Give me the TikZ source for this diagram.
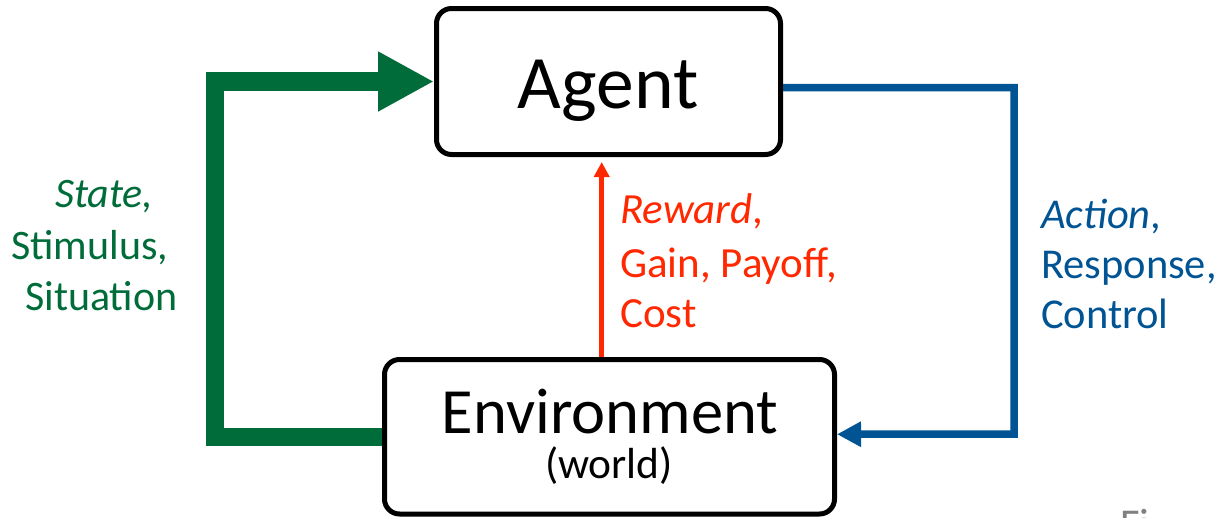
\documentclass[tikz,border=0pt]{standalone}
\usepackage{fontspec}
\setmainfont{Carlito}
\usetikzlibrary{arrows.meta}
\definecolor{stgreen}{RGB}{0,108,58}
\definecolor{actblue}{RGB}{0,84,148}
\definecolor{rwred}{RGB}{255,40,0}
\definecolor{figgray}{RGB}{128,128,128}
\begin{document}
\begin{tikzpicture}[x=1pt,y=-1pt,
  box/.style={draw=black, line width=5pt, rounded corners=15pt, fill=white, inner sep=0pt},
  lbl/.style={anchor=base west, inner sep=0pt, font=\fontsize{42.5}{50}\selectfont},
  title/.style={anchor=base, inner sep=0pt},
]
\useasboundingbox (0,0) rectangle (1222,517);
% boxes
\node[box, minimum width=344pt, minimum height=146pt] (agent) at (608.5,81.5) {};
\node[box, minimum width=450pt, minimum height=154.5pt] (env) at (609.5,436.75) {};
% box texts
\node[title, font=\fontsize{75.5}{90}\selectfont] (agenttxt) at (608,108) {Agent};
\node[title, font=\fontsize{64.5}{76}\selectfont] (envtxt) at (610,433) {Environment};
\node[title, font=\fontsize{43.5}{50}\selectfont] (worldtxt) at (609,478) {(world)};
% connectors
\draw[stgreen, line width=18.5pt, -{Triangle[length=56pt,width=56pt]}]
  (env.west) -- ++(-167,0) |- (agent.west);
\draw[actblue, line width=7.5pt, -{Triangle[length=24pt,width=24pt]}]
  ([yshift=-6pt]agent.east) -- (1014,87.5) -- (1014,434) -- ([yshift=2.5pt]env.east);
\coordinate (rx) at (601.7,300);
\draw[rwred, line width=4.5pt, -{Triangle[length=15pt,width=15pt]}, shorten >=5pt]
  (rx |- env.north) -- (rx |- agent.south);
% labels
\node[lbl, text=stgreen, font=\fontsize{42}{50}\selectfont] (st1) at (55,207) {\itshape State,};
\node[lbl, text=stgreen, font=\fontsize{42}{50}\selectfont] (st2) at (11,259) {Stimulus,};
\node[lbl, text=stgreen, font=\fontsize{42}{50}\selectfont] (st3) at (25,310) {Situation};
\node[lbl, text=rwred, font=\fontsize{43}{50}\selectfont] (rw1) at (620,223) {{\itshape Reward},};
\node[lbl, text=rwred, font=\fontsize{43}{50}\selectfont] (rw2) at (620,277) {Gain, Payoff,};
\node[lbl, text=rwred, font=\fontsize{43}{50}\selectfont] (rw3) at (620,327) {Cost};
\node[lbl, text=actblue] (ac1) at (1041,228) {{\itshape Action},};
\node[lbl, text=actblue] (ac2) at (1041,278) {Response,};
\node[lbl, text=actblue] (ac3) at (1041,328) {Control};
\node[lbl, text=figgray] (fig) at (1120,538) {Fi};
\end{tikzpicture}
\end{document}
